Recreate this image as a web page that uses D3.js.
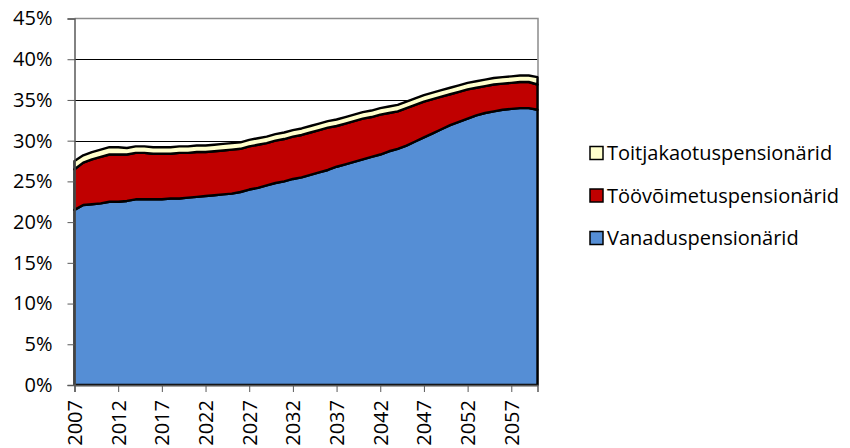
<!DOCTYPE html>
<html>
<head>
<meta charset="utf-8">
<script src="https://cdn.jsdelivr.net/npm/d3@7"></script>
<style>
  html, body { margin: 0; padding: 0; background: #fff; }
  svg { display: block; }
  text { font-family: "Open Sans", Lato, sans-serif; fill: #000; }
</style>
</head>
<body>
<svg id="chart" width="850" height="448"></svg>
<script>
// ---- Data (share of population, %) ----
const years = d3.range(2007, 2061);
const seriesNames = ["Vanaduspensionärid", "Töövõimetuspensionärid", "Toitjakaotuspensionärid"];
const vanadus = [
  21.5, 22.1, 22.2, 22.3, 22.5, 22.5, 22.6, 22.8, 22.8, 22.8,
  22.8, 22.9, 22.9, 23.0, 23.1, 23.2, 23.3, 23.4, 23.5, 23.7,
  24.0, 24.2, 24.5, 24.8, 25.0, 25.3, 25.5, 25.8, 26.1, 26.4,
  26.8, 27.1, 27.4, 27.7, 28.0, 28.3, 28.7, 29.0, 29.4, 29.9,
  30.4, 30.9, 31.4, 31.9, 32.3, 32.7, 33.1, 33.4, 33.6, 33.8,
  33.9, 34.0, 34.0, 33.8
];
const toovoime = [
  5.0, 5.2, 5.5, 5.7, 5.8, 5.8, 5.7, 5.7, 5.7, 5.6,
  5.6, 5.5, 5.6, 5.5, 5.5, 5.4, 5.4, 5.4, 5.4, 5.3,
  5.3, 5.3, 5.2, 5.2, 5.2, 5.2, 5.2, 5.2, 5.2, 5.2,
  5.0, 5.0, 5.0, 5.0, 4.9, 4.9, 4.7, 4.6, 4.6, 4.5,
  4.4, 4.2, 4.0, 3.8, 3.7, 3.6, 3.4, 3.3, 3.3, 3.2,
  3.2, 3.2, 3.2, 3.1
];
const toitja = [
  1.0, 0.9, 0.9, 0.9, 0.9, 0.9, 0.8, 0.8, 0.8, 0.8,
  0.8, 0.8, 0.8, 0.8, 0.8, 0.8, 0.8, 0.8, 0.8, 0.8,
  0.8, 0.8, 0.8, 0.8, 0.8, 0.8, 0.8, 0.8, 0.8, 0.8,
  0.8, 0.8, 0.8, 0.8, 0.8, 0.8, 0.8, 0.8, 0.8, 0.8,
  0.8, 0.8, 0.8, 0.8, 0.8, 0.8, 0.8, 0.8, 0.8, 0.8,
  0.8, 0.8, 0.8, 0.9
];
const yTicks = [0, 5, 10, 15, 20, 25, 30, 35, 40, 45];
const xTickYears = [2007, 2012, 2017, 2022, 2027, 2032, 2037, 2042, 2047, 2052, 2057];
const colors = ["#558ED5", "#C00000", "#FFFFCC"];

// ---- Layout ----
const svg = d3.select("#chart");
const L = 74.5, R = 537.5, T = 18.5, B = 385;
const FONT = "'Open Sans', Lato, sans-serif";

const x = d3.scaleLinear().domain([2007, 2060]).range([L, R]);
const y = d3.scaleLinear().domain([0, 45]).range([B, T]);

const table = years.map((yr, i) => ({
  year: yr,
  [seriesNames[0]]: vanadus[i],
  [seriesNames[1]]: toovoime[i],
  [seriesNames[2]]: toitja[i]
}));
const stacked = d3.stack().keys(seriesNames)(table);

// gridlines
svg.append("g").selectAll("line")
  .data(yTicks.filter(v => v > 0 && v < 45))
  .join("line")
  .attr("x1", L).attr("x2", R)
  .attr("y1", d => Math.round(y(d)) + 0.5).attr("y2", d => Math.round(y(d)) + 0.5)
  .attr("stroke", "#000").attr("stroke-width", 1);

// plot border (top/right)
svg.append("path")
  .attr("d", `M${L},${T}H${R + 0.5}V${B}`)
  .attr("fill", "none").attr("stroke", "#8c8c8c").attr("stroke-width", 1.5);

// areas
const area = d3.area()
  .x(d => x(d.data.year))
  .y0(d => y(d[0]))
  .y1(d => y(d[1]));

svg.append("g").selectAll("path")
  .data(stacked)
  .join("path")
  .attr("d", d => area(d) + "Z")
  .attr("fill", (d, i) => colors[i])
  .attr("stroke", "#000")
  .attr("stroke-width", 2.4)
  .attr("stroke-linejoin", "round");

// y axis
const yAxis = svg.append("g").attr("transform", `translate(${L},0)`)
  .call(d3.axisLeft(y).tickValues(yTicks).tickSize(7).tickPadding(15).tickFormat(d => d + "%"));
yAxis.select(".domain").attr("stroke", "#595959").attr("stroke-width", 1.5);
yAxis.selectAll(".tick line").attr("stroke", "#595959");
yAxis.selectAll("text").attr("font-size", 20).attr("fill", "#000")
  .style("font-family", FONT);

// x axis
const xAxis = svg.append("g").attr("transform", `translate(0,${B})`)
  .call(d3.axisBottom(x).tickValues(xTickYears).tickSize(7).tickFormat(d3.format("d")));
xAxis.select(".domain").attr("stroke", "#595959").attr("stroke-width", 1.5);
xAxis.selectAll(".tick line").attr("stroke", "#595959");
xAxis.selectAll("text")
  .attr("font-size", 20).attr("fill", "#000")
  .style("font-family", FONT)
  .attr("transform", "rotate(-90)")
  .attr("text-anchor", "end")
  .attr("x", -15).attr("y", 0).attr("dy", "0.35em");

// legend
const legendRows = [
  { name: seriesNames[2], color: colors[2], cy: 153 },
  { name: seriesNames[1], color: colors[1], cy: 195.5 },
  { name: seriesNames[0], color: colors[0], cy: 238 }
];
const lg = svg.append("g");
lg.selectAll("rect").data(legendRows).join("rect")
  .attr("x", 590).attr("y", d => d.cy - 6.5).attr("width", 13).attr("height", 13)
  .attr("fill", d => d.color).attr("stroke", "#000").attr("stroke-width", 1.5);
lg.selectAll("text").data(legendRows).join("text")
  .attr("x", 607).attr("y", d => d.cy).attr("dy", "0.35em")
  .attr("font-size", 20)
  .style("font-family", FONT)
  .text(d => d.name);
</script>
</body>
</html>
